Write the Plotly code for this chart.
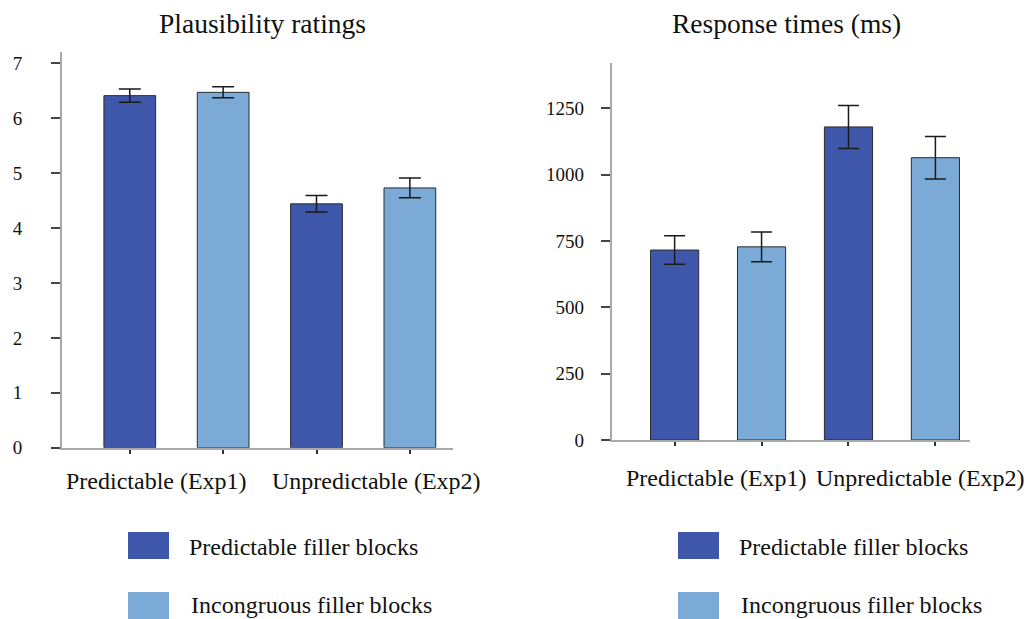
import plotly.graph_objects as go

# ---------------- data ----------------
categories = ["Predictable (Exp1)", "Unpredictable (Exp2)"]
series_names = ["Predictable filler blocks", "Incongruous filler blocks"]

plaus_pred = [6.41, 4.44]
plaus_pred_err = [0.12, 0.15]
plaus_incong = [6.47, 4.73]
plaus_incong_err = [0.10, 0.18]

rt_pred = [716, 1180]
rt_pred_err = [54, 81]
rt_incong = [728, 1064]
rt_incong_err = [56, 80]

y1_ticks = [0, 1, 2, 3, 4, 5, 6, 7]
y2_ticks = [0, 250, 500, 750, 1000, 1250]

# ---------------- style ----------------
W, H = 1029, 619
FONT = "'Liberation Serif', 'Times New Roman', 'DejaVu Serif', serif"
DARK = "#3F57AA"
LIGHT = "#7BAAD6"
colors = [DARK, LIGHT]
BAR_W = 0.277
TXT = "#111111"

def px_x(p):
    return p / W

def px_y(p):
    return 1 - p / H

fig = go.Figure()

panels = [
    dict(vals=[plaus_pred, plaus_incong], errs=[plaus_pred_err, plaus_incong_err],
         xa="x", ya="y", cap=11),
    dict(vals=[rt_pred, rt_incong], errs=[rt_pred_err, rt_incong_err],
         xa="x2", ya="y2", cap=10.5),
]

bar_positions = []
for i in range(len(categories)):
    for j in range(len(series_names)):
        bar_positions.append(i + (j - 0.5) * 0.5)

for pnl in panels:
    for j, name in enumerate(series_names):
        xs = [i + (j - 0.5) * 0.5 for i in range(len(categories))]
        fig.add_trace(go.Bar(
            x=xs, y=pnl["vals"][j], width=BAR_W, name=name,
            marker=dict(color=colors[j], line=dict(color="#2b2b2b", width=1)),
            error_y=dict(type="data", array=pnl["errs"][j], visible=True,
                         color="#1a1a1a", thickness=1.5, width=pnl["cap"]),
            xaxis=pnl["xa"], yaxis=pnl["ya"], showlegend=False,
        ))

axis_common = dict(showgrid=False, zeroline=False, showline=True,
                   linecolor="#A8A8A8", linewidth=2, automargin=False)

fig.update_layout(
    width=W, height=H,
    margin=dict(l=0, r=0, t=0, b=0, autoexpand=False),
    paper_bgcolor="white", plot_bgcolor="white",
    font=dict(family=FONT, color=TXT),
    showlegend=False,
    xaxis=dict(domain=[px_x(62), px_x(453)], range=[-0.613, 1.481],
               tickvals=bar_positions, showticklabels=False, ticks="outside",
               ticklen=4, tickwidth=2, tickcolor="#333333", anchor="y", **axis_common),
    yaxis=dict(domain=[px_y(447.7), px_y(51.7)], range=[0, 7.21],
               tickvals=y1_ticks, ticks="outside", ticklen=9, tickwidth=2,
               tickcolor="#444444", ticklabelstandoff=25,
               tickfont=dict(size=19, family=FONT, color=TXT),
               anchor="x", **axis_common),
    xaxis2=dict(domain=[px_x(611.7), px_x(970)], range=[-0.612, 1.449],
                tickvals=bar_positions, showticklabels=False, ticks="outside",
                ticklen=4, tickwidth=2, tickcolor="#333333", anchor="y2", **axis_common),
    yaxis2=dict(domain=[px_y(440), px_y(62.7)], range=[0, 1422],
                tickvals=y2_ticks, ticks="outside", ticklen=9, tickwidth=2,
                tickcolor="#444444", ticklabelstandoff=13,
                tickfont=dict(size=19, family=FONT, color=TXT),
                anchor="x2", **axis_common),
)

annotations = []
annotations.append(dict(text="Plausibility ratings", x=px_x(262.5), y=px_y(23),
                        xref="paper", yref="paper", showarrow=False,
                        xanchor="center", yanchor="middle",
                        font=dict(size=27.5, family=FONT, color=TXT)))
annotations.append(dict(text="Response times (ms)", x=px_x(786.7), y=px_y(23),
                        xref="paper", yref="paper", showarrow=False,
                        xanchor="center", yanchor="middle",
                        font=dict(size=27.5, family=FONT, color=TXT)))
cat_label_pos = [[(156, 481), (376.7, 481)], [(716.4, 478), (920.5, 478)]]
for pos in cat_label_pos:
    for k, cat in enumerate(categories):
        annotations.append(dict(text=cat, x=px_x(pos[k][0]), y=px_y(pos[k][1]),
                                xref="paper", yref="paper", showarrow=False,
                                xanchor="center", yanchor="middle",
                                font=dict(size=24, family=FONT, color=TXT)))

shapes = []
legend_boxes = [(128, 169, 187), (678, 719, 737)]
legend_rows = [(532, 559, 547), (592, 619, 605)]
for (x0, x1, tx) in legend_boxes:
    for j, name in enumerate(series_names):
        y0, y1, ty = legend_rows[j]
        shapes.append(dict(type="rect", xref="paper", yref="paper",
                           x0=px_x(x0), x1=px_x(x1), y0=px_y(y1), y1=px_y(y0),
                           fillcolor=colors[j], line=dict(width=0)))
        annotations.append(dict(text=name, x=px_x(tx + (2 if j == 1 else 0)), y=px_y(ty),
                                xref="paper", yref="paper", showarrow=False,
                                xanchor="left", yanchor="middle",
                                font=dict(size=24, family=FONT, color=TXT)))

fig.update_layout(annotations=annotations, shapes=shapes)

fig.write_html("out.html")
